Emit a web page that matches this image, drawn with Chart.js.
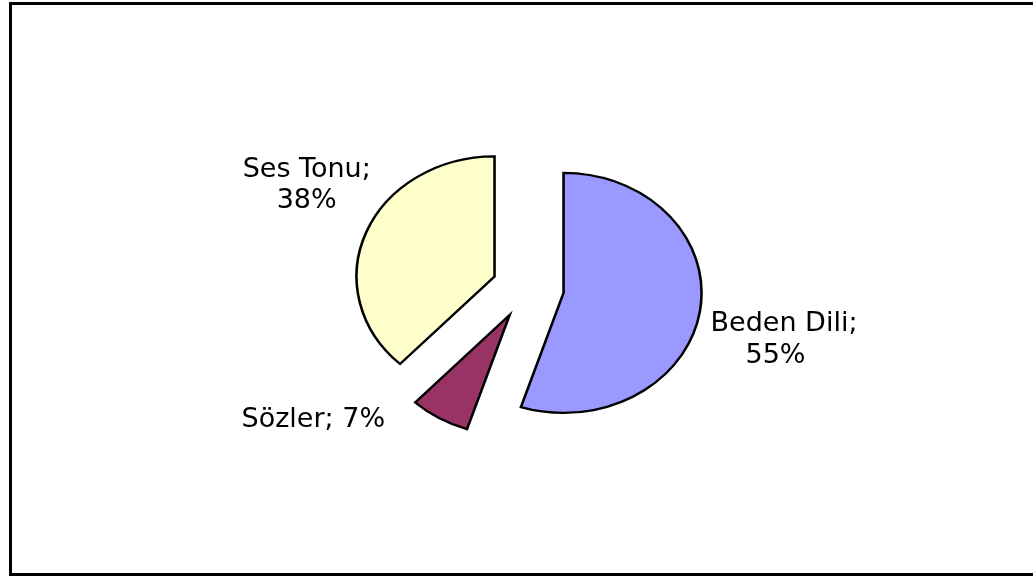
<!DOCTYPE html>
<html><head><meta charset="utf-8">
<script src="https://cdn.jsdelivr.net/npm/chart.js@4/dist/chart.umd.min.js"></script>
<style>html,body{margin:0;padding:0;background:#fff;overflow:hidden}canvas{display:block}</style>
</head><body>
<canvas id="c" width="1033" height="577"></canvas>
<script>
// ---- data ----
const categories = ['Beden Dili', 'Sözler', 'Ses Tonu'];
const values = [55, 7, 38];

// ---- styling / layout ----
const sliceColors = ['#9999FF', '#993366', '#FFFFCC'];
const explode = [36, 36, 36];
const SQUASH = 0.87;
const LABEL_FONT = '27px "DejaVu Sans", sans-serif';
// per-label line placement relative to pie centre: [dx, dy] for each line (centre x, baseline)
const labelLayout = [
  { split: true,  lines: [[256, 42.7], [247.5, 75.3]] },
  { split: false, lines: [[-214.7, 138.7]] },
  { split: true,  lines: [[-221.3, -111.3], [-221.3, -79.7]] }
];

const total = values.reduce((a, b) => a + b, 0);

const framePlugin = {
  id: 'frame',
  beforeDraw(chart) {
    const ctx = chart.ctx;
    ctx.save();
    ctx.fillStyle = '#fff';
    ctx.fillRect(0, 0, chart.width, chart.height);
    ctx.strokeStyle = '#000';
    ctx.lineWidth = 3;
    ctx.strokeRect(10.5, 3.5, 1100, 571);
    ctx.restore();
  }
};

const explodedPiePlugin = {
  id: 'explodedPie',
  beforeDatasetsDraw(chart) {
    const ctx = chart.ctx;
    const meta = chart.getDatasetMeta(0);
    meta.data.forEach((arc, i) => {
      const mid = (arc.startAngle + arc.endAngle) / 2;
      ctx.save();
      ctx.translate(arc.x, arc.y);
      ctx.scale(1, SQUASH);
      ctx.translate(-arc.x, -arc.y);
      ctx.translate(Math.cos(mid) * explode[i], Math.sin(mid) * explode[i]);
      arc.draw(ctx);
      ctx.restore();
    });
    return false;
  },
  afterDraw(chart) {
    const ctx = chart.ctx;
    const meta = chart.getDatasetMeta(0);
    ctx.save();
    ctx.font = LABEL_FONT;
    ctx.fillStyle = '#000';
    ctx.textAlign = 'center';
    ctx.textBaseline = 'alphabetic';
    meta.data.forEach((arc, i) => {
      const pct = Math.round(values[i] / total * 100) + '%';
      const lay = labelLayout[i];
      const texts = lay.split ? [categories[i] + ';', pct] : [categories[i] + '; ' + pct];
      texts.forEach((t, j) => {
        const [dx, dy] = lay.lines[j];
        ctx.fillText(t, arc.x + dx, arc.y + dy);
      });
    });
    ctx.restore();
  }
};

new Chart(document.getElementById('c'), {
  type: 'pie',
  data: {
    labels: categories,
    datasets: [{
      data: values,
      backgroundColor: sliceColors,
      borderColor: '#000',
      borderWidth: 2.6,
      borderJoinStyle: 'miter',
      radius: 138
    }]
  },
  options: {
    responsive: false,
    animation: false,
    layout: { padding: { left: 40, right: 17, top: 20, bottom: 21 } },
    plugins: { legend: { display: false }, tooltip: { enabled: false } }
  },
  plugins: [framePlugin, explodedPiePlugin]
});
</script>
</body></html>
